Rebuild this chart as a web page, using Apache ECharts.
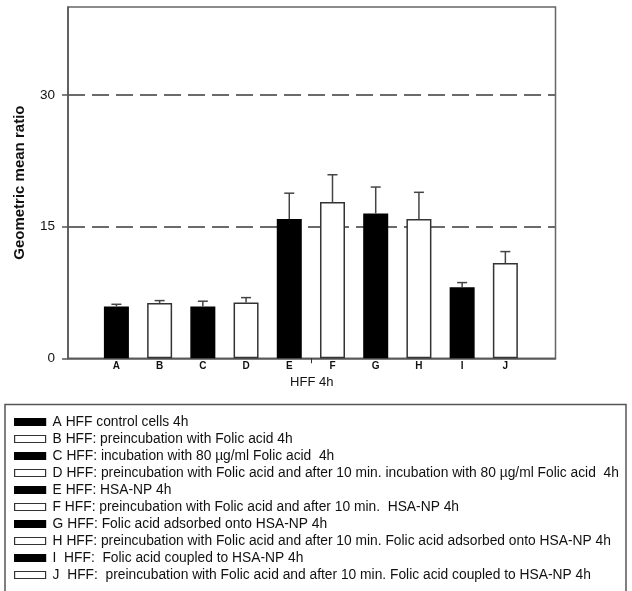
<!DOCTYPE html>
<html>
<head>
<meta charset="utf-8">
<script src="https://cdn.jsdelivr.net/npm/echarts@6/dist/echarts.min.js"></script>
<style>
  html, body { margin: 0; padding: 0; background: #fff; }
  #chart { width: 632px; height: 591px; }
</style>
</head>
<body>
<div id="chart"></div>
<script>
// ---- data ----
const categories = ['A', 'B', 'C', 'D', 'E', 'F', 'G', 'H', 'I', 'J'];
const means = [5.9, 6.3, 5.9, 6.35, 15.85, 17.8, 16.5, 15.85, 8.1, 10.85];
const errorTops = [6.15, 6.57, 6.5, 6.91, 18.8, 20.9, 19.5, 18.9, 8.62, 12.15];
const legendTexts = [
  'A HFF control cells 4h',
  'B HFF: preincubation with Folic acid 4h',
  'C HFF: incubation with 80 µg/ml Folic acid  4h',
  'D HFF: preincubation with Folic acid and after 10 min. incubation with 80 µg/ml Folic acid  4h',
  'E HFF: HSA-NP 4h',
  'F HFF: preincubation with Folic acid and after 10 min.  HSA-NP 4h',
  'G HFF: Folic acid adsorbed onto HSA-NP 4h',
  'H HFF: preincubation with Folic acid and after 10 min. Folic acid adsorbed onto HSA-NP 4h',
  'I  HFF:  Folic acid coupled to HSA-NP 4h',
  'J  HFF:  preincubation with Folic acid and after 10 min. Folic acid coupled to HSA-NP 4h'
];
const yTicks = [0, 15, 30];
const groupLabel = 'HFF 4h';
const yName = 'Geometric mean ratio';

// ---- chart ----
const FONT = 'Liberation Sans, Arial, sans-serif';
const chart = echarts.init(document.getElementById('chart'), null, { renderer: 'canvas' });

const barSeries = categories.map((c, i) => {
  const dark = i % 2 === 0;
  return {
    name: legendTexts[i],
    type: 'bar',
    barWidth: 25,
    barGap: '-100%',
    data: [[i + 1, means[i]]],
    itemStyle: {
      color: dark ? '#000' : '#fff',
      borderColor: dark ? '#000' : '#333',
      borderWidth: 1.5
    },
    emphasis: { disabled: true },
    z: 2
  };
});

const errorSeries = {
  type: 'custom',
  name: 'err',
  data: categories.map((c, i) => [i + 1, means[i], errorTops[i]]),
  renderItem: function (params, api) {
    const x = api.value(0);
    const p0 = api.coord([x, api.value(1)]);
    const p1 = api.coord([x, api.value(2)]);
    const half = 5;
    const style = { stroke: '#444', lineWidth: 1.5, fill: null };
    return {
      type: 'group',
      children: [
        { type: 'line', shape: { x1: p0[0], y1: p0[1], x2: p1[0], y2: p1[1] }, style: style },
        { type: 'line', shape: { x1: p1[0] - half, y1: p1[1], x2: p1[0] + half, y2: p1[1] }, style: style }
      ]
    };
  },
  z: 3,
  silent: true
};

const option = {
  animation: false,
  backgroundColor: '#fff',
  grid: {
    left: 68, right: 76.5, top: 7, bottom: 232.7,
    show: true, borderColor: '#666', borderWidth: 1.5,
    containLabel: false
  },
  xAxis: {
    type: 'value',
    min: -0.12,
    max: 11.16,
    name: groupLabel,
    nameLocation: 'middle',
    nameGap: 14,
    nameTextStyle: { fontSize: 13, color: '#111', fontFamily: FONT },
    axisLine: { show: true, onZero: false, lineStyle: { color: '#555', width: 1.5 } },
    axisTick: { show: true, customValues: [5.5], length: 5, lineStyle: { color: '#333', width: 1 } },
    axisLabel: {
      customValues: categories.map((c, i) => i + 1),
      formatter: v => categories[Math.round(v) - 1] || '',
      fontSize: 10, fontWeight: 'bold', color: '#111', margin: 3, fontFamily: FONT
    },
    splitLine: { show: false }
  },
  yAxis: {
    type: 'value',
    min: 0,
    max: 40,
    interval: 15,
    name: yName,
    nameLocation: 'middle',
    nameRotate: 90,
    nameGap: 41,
    nameTextStyle: { fontSize: 15, fontWeight: 'bold', color: '#111', fontFamily: FONT },
    axisLine: { show: true, onZero: false, lineStyle: { color: '#555', width: 1.5 } },
    axisTick: { show: true, customValues: yTicks, length: 6, lineStyle: { color: '#555', width: 1.5 } },
    axisLabel: {
      customValues: yTicks,
      fontSize: 13.5, color: '#111', margin: 13, fontFamily: FONT
    },
    splitLine: {
      show: true,
      showMinLine: false,
      showMaxLine: true,
      lineStyle: { color: '#6a6a6a', width: 2, type: [17, 7] }
    }
  },
  legend: {
    orient: 'vertical',
    left: 14,
    top: 415,
    itemWidth: 31,
    itemHeight: 7,
    itemGap: 3,
    icon: 'rect',
    padding: 0,
    selectedMode: false,
    textStyle: { fontSize: 13.8, lineHeight: 14, color: '#111', fontFamily: FONT, padding: [0, 0, 0, 2] },
    data: legendTexts.map((t, i) => ({
      name: t,
      itemStyle: {
        color: i % 2 === 0 ? '#000' : '#fff',
        borderColor: i % 2 === 0 ? '#000' : '#333',
        borderWidth: 1.2
      }
    }))
  },
  graphic: [
    {
      type: 'rect',
      shape: { x: 5, y: 404.5, width: 621, height: 190 },
      style: { fill: null, stroke: '#555', lineWidth: 1.5 },
      z: -1,
      silent: true
    }
  ],
  series: barSeries.concat([errorSeries])
};

chart.setOption(option);
</script>
</body>
</html>
